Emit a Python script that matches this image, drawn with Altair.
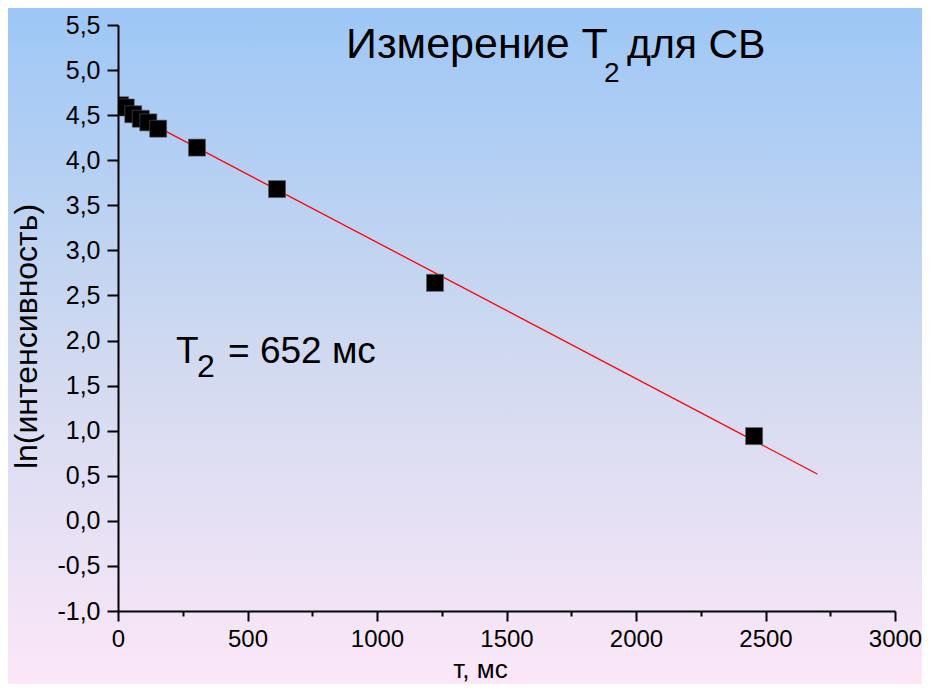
import altair as alt
import pandas as pd

# ---- data ----
t_ms = [8, 30, 59, 88, 117, 155, 305, 614, 1224, 2456]
ln_int = [4.61, 4.585, 4.51, 4.46, 4.42, 4.35, 4.14, 3.68, 2.64, 0.94]
fit_t = [0, 2700]
fit_ln = [4.60, 0.52]

x_ticks = [0, 250, 500, 750, 1000, 1250, 1500, 1750, 2000, 2250, 2500, 2750, 3000]
y_ticks = [-1.0, -0.75, -0.5, -0.25, 0.0, 0.25, 0.5, 0.75, 1.0, 1.25, 1.5, 1.75, 2.0,
           2.25, 2.5, 2.75, 3.0, 3.25, 3.5, 3.75, 4.0, 4.25, 4.5, 4.75, 5.0, 5.25, 5.5]

title_main = "Измерение T"
title_sub = "2"
title_tail = "для СВ"
ann_main = "T"
ann_sub = "2"
ann_tail = "= 652 мс"
x_title = "т, мс"
y_title = "ln(интенсивность)"

FONT = "Liberation Sans"
W, H = 777, 586
PAD = {"left": 110, "top": 17, "right": 27, "bottom": 73}

pts = pd.DataFrame({"t": t_ms, "v": ln_int})
fit = pd.DataFrame({"t": fit_t, "v": fit_ln})
one = alt.Data(values=[{}])

x_scale = alt.Scale(domain=[0, 3000], nice=False, zero=False)
y_scale = alt.Scale(domain=[-1, 5.5], nice=False, zero=False)

x_axis = alt.Axis(
    values=x_ticks, format="d", zindex=2, labelFlush=False,
    labelExpr="datum.value % 500 === 0 ? datum.label : ''",
    tickSize={"condition": {"test": "datum.value % 500 === 0", "value": 10}, "value": 5},
    tickWidth=2, tickColor="black", domainWidth=2, domainColor="black",
    labelFont=FONT, labelFontSize=24, labelColor="black", labelPadding=6,
    grid=False, title=x_title, titleFont=FONT, titleFontSize=26,
    titleFontWeight="normal", titleColor="black", titleX=362, titleY=66,
    titleBaseline="alphabetic", titleAlign="center",
)
y_axis = alt.Axis(
    values=y_ticks, zindex=2, labelFlush=False,
    labelExpr="datum.value % 0.5 === 0 ? replace(replace(format(datum.value, '.1f'), '.', ','), '\u2212', '-') : ''",
    tickSize={"condition": {"test": "datum.value % 0.5 === 0", "value": 11}, "value": 6},
    tickWidth=2, tickColor="black", domainWidth=2, domainColor="black",
    labelFont=FONT, labelFontSize=25, labelColor="black", labelPadding=7,
    grid=False, title=y_title, titleFont=FONT, titleFontSize=32,
    titleFontWeight="normal", titleColor="black", titleX=-82, titleY=311,
    titleAngle=270, titleBaseline="alphabetic", titleAlign="center",
)

bg = alt.Chart(one).mark_rect(
    clip=False,
    fill=alt.Gradient(
        gradient="linear", x1=0, x2=0, y1=0, y2=1,
        stops=[alt.GradientStop(color="#9dc7f6", offset=0),
               alt.GradientStop(color="#cfd9f0", offset=0.5),
               alt.GradientStop(color="#fce7f8", offset=1)],
    ),
).encode(
    x=alt.value(-PAD["left"]), x2=alt.value(W + PAD["right"]),
    y=alt.value(-PAD["top"]), y2=alt.value(H + PAD["bottom"]),
)

line = alt.Chart(fit).mark_line(color="#ff0000", strokeWidth=1.3).encode(
    x=alt.X("t:Q", scale=x_scale, axis=x_axis),
    y=alt.Y("v:Q", scale=y_scale, axis=y_axis),
)

points = alt.Chart(pts).mark_square(
    size=289, color="black", opacity=1, clip=True,
    stroke="#555a66", strokeWidth=0.6,
).encode(
    x=alt.X("t:Q", scale=x_scale),
    y=alt.Y("v:Q", scale=y_scale),
)


def txt(s, x, y, size, align="left"):
    return alt.Chart(one).mark_text(
        text=s, font=FONT, fontSize=size, color="black",
        align=align, baseline="alphabetic",
    ).encode(x=alt.value(x), y=alt.value(y))


texts = [
    txt(title_main, 228, 33, 43),
    txt(title_sub, 486, 57, 28),
    txt(title_tail, 509, 33, 41),
    txt(ann_main, 58, 338, 37),
    txt(ann_sub, 79, 352, 32),
    txt(ann_tail, 110, 338, 37),
]

chart = alt.layer(bg, line, points, *texts).properties(
    width=W, height=H,
    padding=PAD,
    autosize=alt.AutoSizeParams(type="none"),
    background="white",
).configure_view(strokeOpacity=0)

chart.save("out.html", embed_options={"renderer": "svg", "actions": False})
